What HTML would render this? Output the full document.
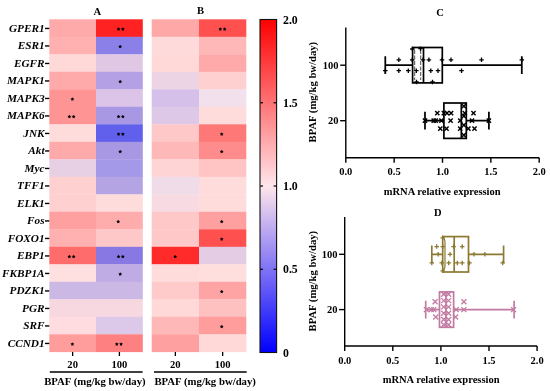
<!DOCTYPE html>
<html><head><meta charset="utf-8"><style>
html,body{margin:0;padding:0;background:#fff;}
svg{display:block;will-change:transform;}
text{font-family:"Liberation Serif",serif;font-weight:bold;fill:#000;}
.gi{font-style:italic;font-size:11.25px;}
.b{font-size:10.6px;}
.bl{font-size:10.75px;}
.b10{font-size:10.5px;}
.rot{font-size:10.65px;}
.cb{font-size:11.8px;}
</style></head><body>
<svg width="550" height="391" viewBox="0 0 550 391">
<rect width="550" height="391" fill="#fff"/>
<rect x="49.3" y="19.30" width="47.00" height="17.8" fill="#FFAAAA"/>
<rect x="96.0" y="19.30" width="46.80" height="17.8" fill="#FF2222"/>
<rect x="49.3" y="36.80" width="47.00" height="17.8" fill="#FFB0B0"/>
<rect x="96.0" y="36.80" width="46.80" height="17.8" fill="#8A80E8"/>
<rect x="49.3" y="54.30" width="47.00" height="17.8" fill="#FFD8D8"/>
<rect x="96.0" y="54.30" width="46.80" height="17.8" fill="#E0C8E4"/>
<rect x="49.3" y="71.80" width="47.00" height="17.8" fill="#FFAAAA"/>
<rect x="96.0" y="71.80" width="46.80" height="17.8" fill="#B4A0E4"/>
<rect x="49.3" y="89.30" width="47.00" height="17.8" fill="#FF9494"/>
<rect x="96.0" y="89.30" width="46.80" height="17.8" fill="#DCC4E8"/>
<rect x="49.3" y="106.80" width="47.00" height="17.8" fill="#FF9494"/>
<rect x="96.0" y="106.80" width="46.80" height="17.8" fill="#A898E4"/>
<rect x="49.3" y="124.30" width="47.00" height="17.8" fill="#FFDCDC"/>
<rect x="96.0" y="124.30" width="46.80" height="17.8" fill="#6060EC"/>
<rect x="49.3" y="141.80" width="47.00" height="17.8" fill="#FFAAAA"/>
<rect x="96.0" y="141.80" width="46.80" height="17.8" fill="#A898E4"/>
<rect x="49.3" y="159.30" width="47.00" height="17.8" fill="#E8D0E4"/>
<rect x="96.0" y="159.30" width="46.80" height="17.8" fill="#A498E8"/>
<rect x="49.3" y="176.80" width="47.00" height="17.8" fill="#FFD0D0"/>
<rect x="96.0" y="176.80" width="46.80" height="17.8" fill="#B4A4E4"/>
<rect x="49.3" y="194.30" width="47.00" height="17.8" fill="#FFD0D0"/>
<rect x="96.0" y="194.30" width="46.80" height="17.8" fill="#FFDCDC"/>
<rect x="49.3" y="211.80" width="47.00" height="17.8" fill="#FFA0A0"/>
<rect x="96.0" y="211.80" width="46.80" height="17.8" fill="#FFACAC"/>
<rect x="49.3" y="229.30" width="47.00" height="17.8" fill="#FFB0B0"/>
<rect x="96.0" y="229.30" width="46.80" height="17.8" fill="#FFC8C8"/>
<rect x="49.3" y="246.80" width="47.00" height="17.8" fill="#FF6C6C"/>
<rect x="96.0" y="246.80" width="46.80" height="17.8" fill="#8878E4"/>
<rect x="49.3" y="264.30" width="47.00" height="17.8" fill="#FFE0E0"/>
<rect x="96.0" y="264.30" width="46.80" height="17.8" fill="#C0ACE4"/>
<rect x="49.3" y="281.80" width="47.00" height="17.8" fill="#CCB8E4"/>
<rect x="96.0" y="281.80" width="46.80" height="17.8" fill="#CCB8E4"/>
<rect x="49.3" y="299.30" width="47.00" height="17.8" fill="#F8D8E0"/>
<rect x="96.0" y="299.30" width="46.80" height="17.8" fill="#F8D8E0"/>
<rect x="49.3" y="316.80" width="47.00" height="17.8" fill="#FFDCE0"/>
<rect x="96.0" y="316.80" width="46.80" height="17.8" fill="#DCC8E8"/>
<rect x="49.3" y="334.30" width="47.00" height="17.8" fill="#FF9C9C"/>
<rect x="96.0" y="334.30" width="46.80" height="17.8" fill="#FF8080"/>
<polygon points="118.55,27.15 119.14,28.34 120.45,28.53 119.50,29.46 119.73,30.77 118.55,30.15 117.37,30.77 117.60,29.46 116.65,28.53 117.96,28.34" fill="#000"/><polygon points="122.85,27.15 123.44,28.34 124.75,28.53 123.80,29.46 124.03,30.77 122.85,30.15 121.67,30.77 121.90,29.46 120.95,28.53 122.26,28.34" fill="#000"/>
<polygon points="120.20,44.65 120.79,45.84 122.10,46.03 121.15,46.96 121.38,48.27 120.20,47.65 119.02,48.27 119.25,46.96 118.30,46.03 119.61,45.84" fill="#000"/>
<polygon points="120.20,79.65 120.79,80.84 122.10,81.03 121.15,81.96 121.38,83.27 120.20,82.65 119.02,83.27 119.25,81.96 118.30,81.03 119.61,80.84" fill="#000"/>
<polygon points="72.40,97.15 72.99,98.34 74.30,98.53 73.35,99.46 73.58,100.77 72.40,100.15 71.22,100.77 71.45,99.46 70.50,98.53 71.81,98.34" fill="#000"/>
<polygon points="69.35,114.65 69.94,115.84 71.25,116.03 70.30,116.96 70.53,118.27 69.35,117.65 68.17,118.27 68.40,116.96 67.45,116.03 68.76,115.84" fill="#000"/><polygon points="73.65,114.65 74.24,115.84 75.55,116.03 74.60,116.96 74.83,118.27 73.65,117.65 72.47,118.27 72.70,116.96 71.75,116.03 73.06,115.84" fill="#000"/>
<polygon points="118.55,114.65 119.14,115.84 120.45,116.03 119.50,116.96 119.73,118.27 118.55,117.65 117.37,118.27 117.60,116.96 116.65,116.03 117.96,115.84" fill="#000"/><polygon points="122.85,114.65 123.44,115.84 124.75,116.03 123.80,116.96 124.03,118.27 122.85,117.65 121.67,118.27 121.90,116.96 120.95,116.03 122.26,115.84" fill="#000"/>
<polygon points="118.55,132.15 119.14,133.34 120.45,133.53 119.50,134.46 119.73,135.77 118.55,135.15 117.37,135.77 117.60,134.46 116.65,133.53 117.96,133.34" fill="#000"/><polygon points="122.85,132.15 123.44,133.34 124.75,133.53 123.80,134.46 124.03,135.77 122.85,135.15 121.67,135.77 121.90,134.46 120.95,133.53 122.26,133.34" fill="#000"/>
<polygon points="120.20,149.65 120.79,150.84 122.10,151.03 121.15,151.96 121.38,153.27 120.20,152.65 119.02,153.27 119.25,151.96 118.30,151.03 119.61,150.84" fill="#000"/>
<polygon points="118.20,219.65 118.79,220.84 120.10,221.03 119.15,221.96 119.38,223.27 118.20,222.65 117.02,223.27 117.25,221.96 116.30,221.03 117.61,220.84" fill="#000"/>
<polygon points="69.35,254.65 69.94,255.84 71.25,256.03 70.30,256.96 70.53,258.27 69.35,257.65 68.17,258.27 68.40,256.96 67.45,256.03 68.76,255.84" fill="#000"/><polygon points="73.65,254.65 74.24,255.84 75.55,256.03 74.60,256.96 74.83,258.27 73.65,257.65 72.47,258.27 72.70,256.96 71.75,256.03 73.06,255.84" fill="#000"/>
<polygon points="118.55,254.65 119.14,255.84 120.45,256.03 119.50,256.96 119.73,258.27 118.55,257.65 117.37,258.27 117.60,256.96 116.65,256.03 117.96,255.84" fill="#000"/><polygon points="122.85,254.65 123.44,255.84 124.75,256.03 123.80,256.96 124.03,258.27 122.85,257.65 121.67,258.27 121.90,256.96 120.95,256.03 122.26,255.84" fill="#000"/>
<polygon points="120.20,272.15 120.79,273.34 122.10,273.53 121.15,274.46 121.38,275.77 120.20,275.15 119.02,275.77 119.25,274.46 118.30,273.53 119.61,273.34" fill="#000"/>
<polygon points="72.40,342.15 72.99,343.34 74.30,343.53 73.35,344.46 73.58,345.77 72.40,345.15 71.22,345.77 71.45,344.46 70.50,343.53 71.81,343.34" fill="#000"/>
<polygon points="116.75,342.15 117.34,343.34 118.65,343.53 117.70,344.46 117.93,345.77 116.75,345.15 115.57,345.77 115.80,344.46 114.85,343.53 116.16,343.34" fill="#000"/><polygon points="121.05,342.15 121.64,343.34 122.95,343.53 122.00,344.46 122.23,345.77 121.05,345.15 119.87,345.77 120.10,344.46 119.15,343.53 120.46,343.34" fill="#000"/>
<line x1="72.65" y1="352" x2="72.65" y2="356" stroke="#000" stroke-width="1.3"/>
<line x1="119.40" y1="352" x2="119.40" y2="356" stroke="#000" stroke-width="1.3"/>
<rect x="151.7" y="19.30" width="47.60" height="17.8" fill="#FFA8A8"/>
<rect x="199.0" y="19.30" width="47.30" height="17.8" fill="#FF5050"/>
<rect x="151.7" y="36.80" width="47.60" height="17.8" fill="#FFDADA"/>
<rect x="199.0" y="36.80" width="47.30" height="17.8" fill="#FFB8B8"/>
<rect x="151.7" y="54.30" width="47.60" height="17.8" fill="#FFD8D8"/>
<rect x="199.0" y="54.30" width="47.30" height="17.8" fill="#FFAAAA"/>
<rect x="151.7" y="71.80" width="47.60" height="17.8" fill="#ECD4E4"/>
<rect x="199.0" y="71.80" width="47.30" height="17.8" fill="#FFD0D0"/>
<rect x="151.7" y="89.30" width="47.60" height="17.8" fill="#D4C0E8"/>
<rect x="199.0" y="89.30" width="47.30" height="17.8" fill="#F2E0EC"/>
<rect x="151.7" y="106.80" width="47.60" height="17.8" fill="#DEC8E8"/>
<rect x="199.0" y="106.80" width="47.30" height="17.8" fill="#FFDCDC"/>
<rect x="151.7" y="124.30" width="47.60" height="17.8" fill="#FFC8C8"/>
<rect x="199.0" y="124.30" width="47.30" height="17.8" fill="#FF7878"/>
<rect x="151.7" y="141.80" width="47.60" height="17.8" fill="#FFB8B8"/>
<rect x="199.0" y="141.80" width="47.30" height="17.8" fill="#FF8C8C"/>
<rect x="151.7" y="159.30" width="47.60" height="17.8" fill="#FFD4D4"/>
<rect x="199.0" y="159.30" width="47.30" height="17.8" fill="#FFC4C4"/>
<rect x="151.7" y="176.80" width="47.60" height="17.8" fill="#F0DCE8"/>
<rect x="199.0" y="176.80" width="47.30" height="17.8" fill="#FFDCDC"/>
<rect x="151.7" y="194.30" width="47.60" height="17.8" fill="#F8DAE2"/>
<rect x="199.0" y="194.30" width="47.30" height="17.8" fill="#FFDCDC"/>
<rect x="151.7" y="211.80" width="47.60" height="17.8" fill="#FFC8C8"/>
<rect x="199.0" y="211.80" width="47.30" height="17.8" fill="#FFA0A0"/>
<rect x="151.7" y="229.30" width="47.60" height="17.8" fill="#FFC8C8"/>
<rect x="199.0" y="229.30" width="47.30" height="17.8" fill="#FF5050"/>
<rect x="151.7" y="246.80" width="47.60" height="17.8" fill="#FF2A2A"/>
<rect x="199.0" y="246.80" width="47.30" height="17.8" fill="#E4CCE4"/>
<rect x="151.7" y="264.30" width="47.60" height="17.8" fill="#FFDCDC"/>
<rect x="199.0" y="264.30" width="47.30" height="17.8" fill="#FFDEDE"/>
<rect x="151.7" y="281.80" width="47.60" height="17.8" fill="#FFCACA"/>
<rect x="199.0" y="281.80" width="47.30" height="17.8" fill="#FFA4A4"/>
<rect x="151.7" y="299.30" width="47.60" height="17.8" fill="#FFD8D8"/>
<rect x="199.0" y="299.30" width="47.30" height="17.8" fill="#FFC0C0"/>
<rect x="151.7" y="316.80" width="47.60" height="17.8" fill="#FFB8B8"/>
<rect x="199.0" y="316.80" width="47.30" height="17.8" fill="#FF9C9C"/>
<rect x="151.7" y="334.30" width="47.60" height="17.8" fill="#FFA0A0"/>
<rect x="199.0" y="334.30" width="47.30" height="17.8" fill="#FFD8D8"/>
<polygon points="220.35,27.15 220.94,28.34 222.25,28.53 221.30,29.46 221.53,30.77 220.35,30.15 219.17,30.77 219.40,29.46 218.45,28.53 219.76,28.34" fill="#000"/><polygon points="224.65,27.15 225.24,28.34 226.55,28.53 225.60,29.46 225.83,30.77 224.65,30.15 223.47,30.77 223.70,29.46 222.75,28.53 224.06,28.34" fill="#000"/>
<polygon points="221.70,132.15 222.29,133.34 223.60,133.53 222.65,134.46 222.88,135.77 221.70,135.15 220.52,135.77 220.75,134.46 219.80,133.53 221.11,133.34" fill="#000"/>
<polygon points="221.70,149.65 222.29,150.84 223.60,151.03 222.65,151.96 222.88,153.27 221.70,152.65 220.52,153.27 220.75,151.96 219.80,151.03 221.11,150.84" fill="#000"/>
<polygon points="221.70,219.65 222.29,220.84 223.60,221.03 222.65,221.96 222.88,223.27 221.70,222.65 220.52,223.27 220.75,221.96 219.80,221.03 221.11,220.84" fill="#000"/>
<polygon points="221.70,237.15 222.29,238.34 223.60,238.53 222.65,239.46 222.88,240.77 221.70,240.15 220.52,240.77 220.75,239.46 219.80,238.53 221.11,238.34" fill="#000"/>
<polygon points="175.20,254.65 175.79,255.84 177.10,256.03 176.15,256.96 176.38,258.27 175.20,257.65 174.02,258.27 174.25,256.96 173.30,256.03 174.61,255.84" fill="#000"/>
<polygon points="221.70,289.65 222.29,290.84 223.60,291.03 222.65,291.96 222.88,293.27 221.70,292.65 220.52,293.27 220.75,291.96 219.80,291.03 221.11,290.84" fill="#000"/>
<polygon points="221.70,324.65 222.29,325.84 223.60,326.03 222.65,326.96 222.88,328.27 221.70,327.65 220.52,328.27 220.75,326.96 219.80,326.03 221.11,325.84" fill="#000"/>
<line x1="175.35" y1="352" x2="175.35" y2="356" stroke="#000" stroke-width="1.3"/>
<line x1="222.65" y1="352" x2="222.65" y2="356" stroke="#000" stroke-width="1.3"/>
<text x="44.6" y="31.95" class="gi" text-anchor="end">GPER1</text>
<line x1="45" y1="28.45" x2="49.3" y2="28.45" stroke="#000" stroke-width="1.4"/>
<text x="44.6" y="49.45" class="gi" text-anchor="end">ESR1</text>
<line x1="45" y1="45.95" x2="49.3" y2="45.95" stroke="#000" stroke-width="1.4"/>
<text x="44.6" y="66.95" class="gi" text-anchor="end">EGFR</text>
<line x1="45" y1="63.45" x2="49.3" y2="63.45" stroke="#000" stroke-width="1.4"/>
<text x="44.6" y="84.45" class="gi" text-anchor="end">MAPK1</text>
<line x1="45" y1="80.95" x2="49.3" y2="80.95" stroke="#000" stroke-width="1.4"/>
<text x="44.6" y="101.95" class="gi" text-anchor="end">MAPK3</text>
<line x1="45" y1="98.45" x2="49.3" y2="98.45" stroke="#000" stroke-width="1.4"/>
<text x="44.6" y="119.45" class="gi" text-anchor="end">MAPK6</text>
<line x1="45" y1="115.95" x2="49.3" y2="115.95" stroke="#000" stroke-width="1.4"/>
<text x="44.6" y="136.95" class="gi" text-anchor="end">JNK</text>
<line x1="45" y1="133.45" x2="49.3" y2="133.45" stroke="#000" stroke-width="1.4"/>
<text x="44.6" y="154.45" class="gi" text-anchor="end">Akt</text>
<line x1="45" y1="150.95" x2="49.3" y2="150.95" stroke="#000" stroke-width="1.4"/>
<text x="44.6" y="171.95" class="gi" text-anchor="end">Myc</text>
<line x1="45" y1="168.45" x2="49.3" y2="168.45" stroke="#000" stroke-width="1.4"/>
<text x="44.6" y="189.45" class="gi" text-anchor="end">TFF1</text>
<line x1="45" y1="185.95" x2="49.3" y2="185.95" stroke="#000" stroke-width="1.4"/>
<text x="44.6" y="206.95" class="gi" text-anchor="end">ELK1</text>
<line x1="45" y1="203.45" x2="49.3" y2="203.45" stroke="#000" stroke-width="1.4"/>
<text x="44.6" y="224.45" class="gi" text-anchor="end">Fos</text>
<line x1="45" y1="220.95" x2="49.3" y2="220.95" stroke="#000" stroke-width="1.4"/>
<text x="44.6" y="241.95" class="gi" text-anchor="end">FOXO1</text>
<line x1="45" y1="238.45" x2="49.3" y2="238.45" stroke="#000" stroke-width="1.4"/>
<text x="44.6" y="259.45" class="gi" text-anchor="end">EBP1</text>
<line x1="45" y1="255.95" x2="49.3" y2="255.95" stroke="#000" stroke-width="1.4"/>
<text x="44.6" y="276.95" class="gi" text-anchor="end">FKBP1A</text>
<line x1="45" y1="273.45" x2="49.3" y2="273.45" stroke="#000" stroke-width="1.4"/>
<text x="44.6" y="294.45" class="gi" text-anchor="end">PDZK1</text>
<line x1="45" y1="290.95" x2="49.3" y2="290.95" stroke="#000" stroke-width="1.4"/>
<text x="44.6" y="311.95" class="gi" text-anchor="end">PGR</text>
<line x1="45" y1="308.45" x2="49.3" y2="308.45" stroke="#000" stroke-width="1.4"/>
<text x="44.6" y="329.45" class="gi" text-anchor="end">SRF</text>
<line x1="45" y1="325.95" x2="49.3" y2="325.95" stroke="#000" stroke-width="1.4"/>
<text x="44.6" y="346.95" class="gi" text-anchor="end">CCND1</text>
<line x1="45" y1="343.45" x2="49.3" y2="343.45" stroke="#000" stroke-width="1.4"/>
<text x="72.65" y="367.5" class="b" text-anchor="middle">20</text>
<text x="119.40" y="367.5" class="b" text-anchor="middle">100</text>
<text x="175.35" y="367.5" class="b" text-anchor="middle">20</text>
<text x="222.65" y="367.5" class="b" text-anchor="middle">100</text>
<line x1="49.8" y1="371.9" x2="142.6" y2="371.9" stroke="#000" stroke-width="1.5"/>
<line x1="154" y1="371.9" x2="246.7" y2="371.9" stroke="#000" stroke-width="1.5"/>
<text x="94.9" y="384.5" class="bl" text-anchor="middle">BPAF (mg/kg bw/day)</text>
<text x="205.2" y="384.5" class="bl" text-anchor="middle">BPAF (mg/kg bw/day)</text>
<text x="97.3" y="14.7" class="b" text-anchor="middle">A</text>
<text x="200.6" y="14.1" class="b" text-anchor="middle">B</text>
<defs><linearGradient id="cb" x1="0" y1="0" x2="0" y2="1"><stop offset="0" stop-color="#FF0000"/><stop offset="0.5" stop-color="#FFE6EB"/><stop offset="1" stop-color="#0000FF"/></linearGradient></defs>
<rect x="260" y="19.5" width="16.6" height="333" fill="url(#cb)" stroke="#111" stroke-width="1.1"/>
<text x="283" y="23.50" class="cb">2.0</text>
<line x1="260.2" y1="102.75" x2="263" y2="102.75" stroke="#000" stroke-width="1.2"/>
<line x1="273.6" y1="102.75" x2="276.4" y2="102.75" stroke="#000" stroke-width="1.2"/>
<text x="283" y="106.75" class="cb">1.5</text>
<line x1="260.2" y1="186.00" x2="263" y2="186.00" stroke="#000" stroke-width="1.2"/>
<line x1="273.6" y1="186.00" x2="276.4" y2="186.00" stroke="#000" stroke-width="1.2"/>
<text x="283" y="190.00" class="cb">1.0</text>
<line x1="260.2" y1="269.25" x2="263" y2="269.25" stroke="#000" stroke-width="1.2"/>
<line x1="273.6" y1="269.25" x2="276.4" y2="269.25" stroke="#000" stroke-width="1.2"/>
<text x="283" y="273.25" class="cb">0.5</text>
<text x="283" y="356.50" class="cb">0</text>
<path d="M345.8,27.4V157.8H539.20" stroke="#000" stroke-width="1.4" fill="none"/>
<line x1="345.80" y1="157.8" x2="345.80" y2="162.8" stroke="#000" stroke-width="1.4"/>
<text x="345.80" y="175.40" class="b10" text-anchor="middle">0.0</text>
<line x1="394.15" y1="157.8" x2="394.15" y2="162.8" stroke="#000" stroke-width="1.4"/>
<text x="394.15" y="175.40" class="b10" text-anchor="middle">0.5</text>
<line x1="442.50" y1="157.8" x2="442.50" y2="162.8" stroke="#000" stroke-width="1.4"/>
<text x="442.50" y="175.40" class="b10" text-anchor="middle">1.0</text>
<line x1="490.85" y1="157.8" x2="490.85" y2="162.8" stroke="#000" stroke-width="1.4"/>
<text x="490.85" y="175.40" class="b10" text-anchor="middle">1.5</text>
<line x1="539.20" y1="157.8" x2="539.20" y2="162.8" stroke="#000" stroke-width="1.4"/>
<text x="539.20" y="175.40" class="b10" text-anchor="middle">2.0</text>
<line x1="340.2" y1="65.2" x2="345.8" y2="65.2" stroke="#000" stroke-width="1.4"/>
<line x1="340.2" y1="120.7" x2="345.8" y2="120.7" stroke="#000" stroke-width="1.4"/>
<text x="338.5" y="68.8" class="b10" text-anchor="end">100</text>
<text x="338.5" y="124.3" class="b10" text-anchor="end">20</text>
<text x="442.20" y="194.60" class="b10" text-anchor="middle">mRNA relative expression</text>
<text transform="translate(316.4,92.15) rotate(-90)" x="0" y="0" class="rot" text-anchor="middle">BPAF (mg/kg bw/day)</text>
<text x="440" y="16" class="b10" text-anchor="middle">C</text>
<path d="M385.30,65.2H412.60M442.30,65.2H521.80M385.30,56.30V74.10M521.80,56.30V74.10" stroke="#000" stroke-width="1.75" fill="none"/>
<rect x="412.60" y="47.50" width="29.70" height="35.40" stroke="#000" stroke-width="1.7" fill="none"/>
<line x1="423.50" y1="47.50" x2="423.50" y2="82.90" stroke="#000" stroke-width="1.7"/>
<path d="M396.55,59.80H401.05M398.80,57.55V62.05" stroke="#000" stroke-width="1.3" fill="none"/>
<path d="M409.95,59.80H414.45M412.20,57.55V62.05" stroke="#000" stroke-width="1.3" fill="none"/>
<path d="M420.75,59.80H425.25M423.00,57.55V62.05" stroke="#000" stroke-width="1.3" fill="none"/>
<path d="M426.65,59.80H431.15M428.90,57.55V62.05" stroke="#000" stroke-width="1.3" fill="none"/>
<path d="M439.75,59.80H444.25M442.00,57.55V62.05" stroke="#000" stroke-width="1.3" fill="none"/>
<path d="M448.75,59.80H453.25M451.00,57.55V62.05" stroke="#000" stroke-width="1.3" fill="none"/>
<path d="M479.25,59.80H483.75M481.50,57.55V62.05" stroke="#000" stroke-width="1.3" fill="none"/>
<path d="M519.55,59.80H524.05M521.80,57.55V62.05" stroke="#000" stroke-width="1.3" fill="none"/>
<path d="M383.05,70.70H387.55M385.30,68.45V72.95" stroke="#000" stroke-width="1.3" fill="none"/>
<path d="M396.55,70.70H401.05M398.80,68.45V72.95" stroke="#000" stroke-width="1.3" fill="none"/>
<path d="M406.05,70.70H410.55M408.30,68.45V72.95" stroke="#000" stroke-width="1.3" fill="none"/>
<path d="M414.05,70.70H418.55M416.30,68.45V72.95" stroke="#000" stroke-width="1.3" fill="none"/>
<path d="M428.55,70.70H433.05M430.80,68.45V72.95" stroke="#000" stroke-width="1.3" fill="none"/>
<path d="M435.75,70.70H440.25M438.00,68.45V72.95" stroke="#000" stroke-width="1.3" fill="none"/>
<path d="M459.25,70.70H463.75M461.50,68.45V72.95" stroke="#000" stroke-width="1.3" fill="none"/>
<path d="M410.15,49.00H414.65M412.40,46.75V51.25" stroke="#000" stroke-width="1.3" fill="none"/>
<path d="M418.25,48.70H422.75M420.50,46.45V50.95" stroke="#000" stroke-width="1.3" fill="none"/>
<path d="M414.25,82.00H418.75M416.50,79.75V84.25" stroke="#000" stroke-width="1.3" fill="none"/>
<path d="M430.25,82.00H434.75M432.50,79.75V84.25" stroke="#000" stroke-width="1.3" fill="none"/>
<path d="M425.00,120.7H443.90M466.30,120.7H488.90M425.00,111.80V129.60M488.90,111.80V129.60" stroke="#000" stroke-width="1.75" fill="none"/>
<rect x="443.90" y="103.00" width="22.40" height="35.40" stroke="#000" stroke-width="1.7" fill="none"/>
<line x1="461.30" y1="103.00" x2="461.30" y2="138.40" stroke="#000" stroke-width="1.7"/>
<path d="M435.20,111.00L439.40,115.20M435.20,115.20L439.40,111.00" stroke="#000" stroke-width="1.45" fill="none"/>
<path d="M441.80,111.00L446.00,115.20M441.80,115.20L446.00,111.00" stroke="#000" stroke-width="1.45" fill="none"/>
<path d="M444.90,111.00L449.10,115.20M444.90,115.20L449.10,111.00" stroke="#000" stroke-width="1.45" fill="none"/>
<path d="M449.00,111.00L453.20,115.20M449.00,115.20L453.20,111.00" stroke="#000" stroke-width="1.45" fill="none"/>
<path d="M462.70,111.00L466.90,115.20M462.70,115.20L466.90,111.00" stroke="#000" stroke-width="1.45" fill="none"/>
<path d="M471.40,111.00L475.60,115.20M471.40,115.20L475.60,111.00" stroke="#000" stroke-width="1.45" fill="none"/>
<path d="M422.90,118.60L427.10,122.80M422.90,122.80L427.10,118.60" stroke="#000" stroke-width="1.45" fill="none"/>
<path d="M431.60,118.60L435.80,122.80M431.60,122.80L435.80,118.60" stroke="#000" stroke-width="1.45" fill="none"/>
<path d="M433.60,118.60L437.80,122.80M433.60,122.80L437.80,118.60" stroke="#000" stroke-width="1.45" fill="none"/>
<path d="M439.30,118.60L443.50,122.80M439.30,122.80L443.50,118.60" stroke="#000" stroke-width="1.45" fill="none"/>
<path d="M448.50,118.60L452.70,122.80M448.50,122.80L452.70,118.60" stroke="#000" stroke-width="1.45" fill="none"/>
<path d="M458.10,118.60L462.30,122.80M458.10,122.80L462.30,118.60" stroke="#000" stroke-width="1.45" fill="none"/>
<path d="M469.90,118.60L474.10,122.80M469.90,122.80L474.10,118.60" stroke="#000" stroke-width="1.45" fill="none"/>
<path d="M486.80,118.60L491.00,122.80M486.80,122.80L491.00,118.60" stroke="#000" stroke-width="1.45" fill="none"/>
<path d="M438.20,126.60L442.40,130.80M438.20,130.80L442.40,126.60" stroke="#000" stroke-width="1.45" fill="none"/>
<path d="M444.40,126.60L448.60,130.80M444.40,130.80L448.60,126.60" stroke="#000" stroke-width="1.45" fill="none"/>
<path d="M458.10,126.60L462.30,130.80M458.10,130.80L462.30,126.60" stroke="#000" stroke-width="1.45" fill="none"/>
<path d="M466.30,126.60L470.50,130.80M466.30,130.80L470.50,126.60" stroke="#000" stroke-width="1.45" fill="none"/>
<path d="M472.40,126.60L476.60,130.80M472.40,130.80L476.60,126.60" stroke="#000" stroke-width="1.45" fill="none"/>
<path d="M461.70,104.10L465.90,108.30M461.70,108.30L465.90,104.10" stroke="#000" stroke-width="1.45" fill="none"/>
<path d="M461.70,114.10L465.90,118.30M461.70,118.30L465.90,114.10" stroke="#000" stroke-width="1.45" fill="none"/>
<path d="M461.70,123.10L465.90,127.30M461.70,127.30L465.90,123.10" stroke="#000" stroke-width="1.45" fill="none"/>
<path d="M461.70,133.10L465.90,137.30M461.70,137.30L465.90,133.10" stroke="#000" stroke-width="1.45" fill="none"/>
<path d="M414.7,50V80M420.7,50V80" stroke="#222" stroke-width="0.8" stroke-dasharray="4,1.5" fill="none"/>
<path d="M344.7,217V346.0H537.10" stroke="#000" stroke-width="1.4" fill="none"/>
<line x1="344.70" y1="346.0" x2="344.70" y2="351.0" stroke="#000" stroke-width="1.4"/>
<text x="344.70" y="363.60" class="b10" text-anchor="middle">0.0</text>
<line x1="392.80" y1="346.0" x2="392.80" y2="351.0" stroke="#000" stroke-width="1.4"/>
<text x="392.80" y="363.60" class="b10" text-anchor="middle">0.5</text>
<line x1="440.90" y1="346.0" x2="440.90" y2="351.0" stroke="#000" stroke-width="1.4"/>
<text x="440.90" y="363.60" class="b10" text-anchor="middle">1.0</text>
<line x1="489.00" y1="346.0" x2="489.00" y2="351.0" stroke="#000" stroke-width="1.4"/>
<text x="489.00" y="363.60" class="b10" text-anchor="middle">1.5</text>
<line x1="537.10" y1="346.0" x2="537.10" y2="351.0" stroke="#000" stroke-width="1.4"/>
<text x="537.10" y="363.60" class="b10" text-anchor="middle">2.0</text>
<line x1="339.09999999999997" y1="254.3" x2="344.7" y2="254.3" stroke="#000" stroke-width="1.4"/>
<line x1="339.09999999999997" y1="309.6" x2="344.7" y2="309.6" stroke="#000" stroke-width="1.4"/>
<text x="337.4" y="257.90000000000003" class="b10" text-anchor="end">100</text>
<text x="337.4" y="313.20000000000005" class="b10" text-anchor="end">20</text>
<text x="441.10" y="382.80" class="b10" text-anchor="middle">mRNA relative expression</text>
<text transform="translate(316.4,281.15) rotate(-90)" x="0" y="0" class="rot" text-anchor="middle">BPAF (mg/kg bw/day)</text>
<text x="437.8" y="215.9" class="b10" text-anchor="middle">D</text>
<path d="M431.80,254.3H442.70M468.50,254.3H503.60M431.80,245.40V263.20M503.60,245.40V263.20" stroke="#8C7A32" stroke-width="1.65" fill="none"/>
<rect x="442.70" y="236.60" width="25.80" height="35.40" stroke="#8C7A32" stroke-width="1.7" fill="none"/>
<line x1="454.20" y1="236.60" x2="454.20" y2="272.00" stroke="#8C7A32" stroke-width="1.7"/>
<path d="M434.45,246.60H438.95M436.70,244.35V248.85" stroke="#8C7A32" stroke-width="1.3" fill="none"/>
<path d="M440.45,246.60H444.95M442.70,244.35V248.85" stroke="#8C7A32" stroke-width="1.3" fill="none"/>
<path d="M451.35,246.60H455.85M453.60,244.35V248.85" stroke="#8C7A32" stroke-width="1.3" fill="none"/>
<path d="M459.95,246.60H464.45M462.20,244.35V248.85" stroke="#8C7A32" stroke-width="1.3" fill="none"/>
<path d="M435.95,254.30H440.45M438.20,252.05V256.55" stroke="#8C7A32" stroke-width="1.3" fill="none"/>
<path d="M447.75,254.30H452.25M450.00,252.05V256.55" stroke="#8C7A32" stroke-width="1.3" fill="none"/>
<path d="M471.75,254.30H476.25M474.00,252.05V256.55" stroke="#8C7A32" stroke-width="1.3" fill="none"/>
<path d="M482.65,254.30H487.15M484.90,252.05V256.55" stroke="#8C7A32" stroke-width="1.3" fill="none"/>
<path d="M429.55,262.90H434.05M431.80,260.65V265.15" stroke="#8C7A32" stroke-width="1.3" fill="none"/>
<path d="M439.55,262.90H444.05M441.80,260.65V265.15" stroke="#8C7A32" stroke-width="1.3" fill="none"/>
<path d="M446.45,262.90H450.95M448.70,260.65V265.15" stroke="#8C7A32" stroke-width="1.3" fill="none"/>
<path d="M455.05,262.90H459.55M457.30,260.65V265.15" stroke="#8C7A32" stroke-width="1.3" fill="none"/>
<path d="M459.95,262.90H464.45M462.20,260.65V265.15" stroke="#8C7A32" stroke-width="1.3" fill="none"/>
<path d="M467.25,262.90H471.75M469.50,260.65V265.15" stroke="#8C7A32" stroke-width="1.3" fill="none"/>
<path d="M500.45,262.90H504.95M502.70,260.65V265.15" stroke="#8C7A32" stroke-width="1.3" fill="none"/>
<path d="M440.45,237.80H444.95M442.70,235.55V240.05" stroke="#8C7A32" stroke-width="1.3" fill="none"/>
<path d="M440.45,270.80H444.95M442.70,268.55V273.05" stroke="#8C7A32" stroke-width="1.3" fill="none"/>
<path d="M425.70,309.6H439.50M453.60,309.6H514.10M425.70,300.70V318.50M514.10,300.70V318.50" stroke="#C27AA2" stroke-width="1.65" fill="none"/>
<rect x="439.50" y="291.90" width="14.10" height="35.40" stroke="#C27AA2" stroke-width="1.7" fill="none"/>
<line x1="446.00" y1="291.90" x2="446.00" y2="327.30" stroke="#C27AA2" stroke-width="1.7"/>
<path d="M432.60,299.20L437.60,304.20M432.60,304.20L437.60,299.20" stroke="#C27AA2" stroke-width="1.3" fill="none"/>
<path d="M461.40,299.20L466.40,304.20M461.40,304.20L466.40,299.20" stroke="#C27AA2" stroke-width="1.3" fill="none"/>
<path d="M433.30,314.50L438.30,319.50M433.30,319.50L438.30,314.50" stroke="#C27AA2" stroke-width="1.3" fill="none"/>
<path d="M453.10,314.50L458.10,319.50M453.10,319.50L458.10,314.50" stroke="#C27AA2" stroke-width="1.3" fill="none"/>
<path d="M423.90,307.10L428.90,312.10M423.90,312.10L428.90,307.10" stroke="#C27AA2" stroke-width="1.3" fill="none"/>
<path d="M428.80,307.10L433.80,312.10M428.80,312.10L433.80,307.10" stroke="#C27AA2" stroke-width="1.3" fill="none"/>
<path d="M431.30,307.10L436.30,312.10M431.30,312.10L436.30,307.10" stroke="#C27AA2" stroke-width="1.3" fill="none"/>
<path d="M453.70,307.10L458.70,312.10M453.70,312.10L458.70,307.10" stroke="#C27AA2" stroke-width="1.3" fill="none"/>
<path d="M461.40,307.10L466.40,312.10M461.40,312.10L466.40,307.10" stroke="#C27AA2" stroke-width="1.3" fill="none"/>
<path d="M511.10,307.10L516.10,312.10M511.10,312.10L516.10,307.10" stroke="#C27AA2" stroke-width="1.3" fill="none"/>
<path d="M441.20,291.80L446.20,296.80M441.20,296.80L446.20,291.80" stroke="#C27AA2" stroke-width="1.3" fill="none"/>
<path d="M441.20,298.10L446.20,303.10M441.20,303.10L446.20,298.10" stroke="#C27AA2" stroke-width="1.3" fill="none"/>
<path d="M441.20,304.40L446.20,309.40M441.20,309.40L446.20,304.40" stroke="#C27AA2" stroke-width="1.3" fill="none"/>
<path d="M441.20,310.70L446.20,315.70M441.20,315.70L446.20,310.70" stroke="#C27AA2" stroke-width="1.3" fill="none"/>
<path d="M441.20,317.00L446.20,322.00M441.20,322.00L446.20,317.00" stroke="#C27AA2" stroke-width="1.3" fill="none"/>
<path d="M441.20,322.30L446.20,327.30M441.20,327.30L446.20,322.30" stroke="#C27AA2" stroke-width="1.3" fill="none"/>
<path d="M446.10,291.80L451.10,296.80M446.10,296.80L451.10,291.80" stroke="#C27AA2" stroke-width="1.3" fill="none"/>
<path d="M446.10,298.10L451.10,303.10M446.10,303.10L451.10,298.10" stroke="#C27AA2" stroke-width="1.3" fill="none"/>
<path d="M446.10,304.40L451.10,309.40M446.10,309.40L451.10,304.40" stroke="#C27AA2" stroke-width="1.3" fill="none"/>
<path d="M446.10,310.70L451.10,315.70M446.10,315.70L451.10,310.70" stroke="#C27AA2" stroke-width="1.3" fill="none"/>
<path d="M446.10,317.00L451.10,322.00M446.10,322.00L451.10,317.00" stroke="#C27AA2" stroke-width="1.3" fill="none"/>
<path d="M446.10,322.30L451.10,327.30M446.10,327.30L451.10,322.30" stroke="#C27AA2" stroke-width="1.3" fill="none"/>
<path d="M443.2,237.5Q445,239 445,242V266Q445,269 443.2,270.5" stroke="#8C7A32" stroke-width="1.2" fill="none"/>
</svg>
</body></html>
